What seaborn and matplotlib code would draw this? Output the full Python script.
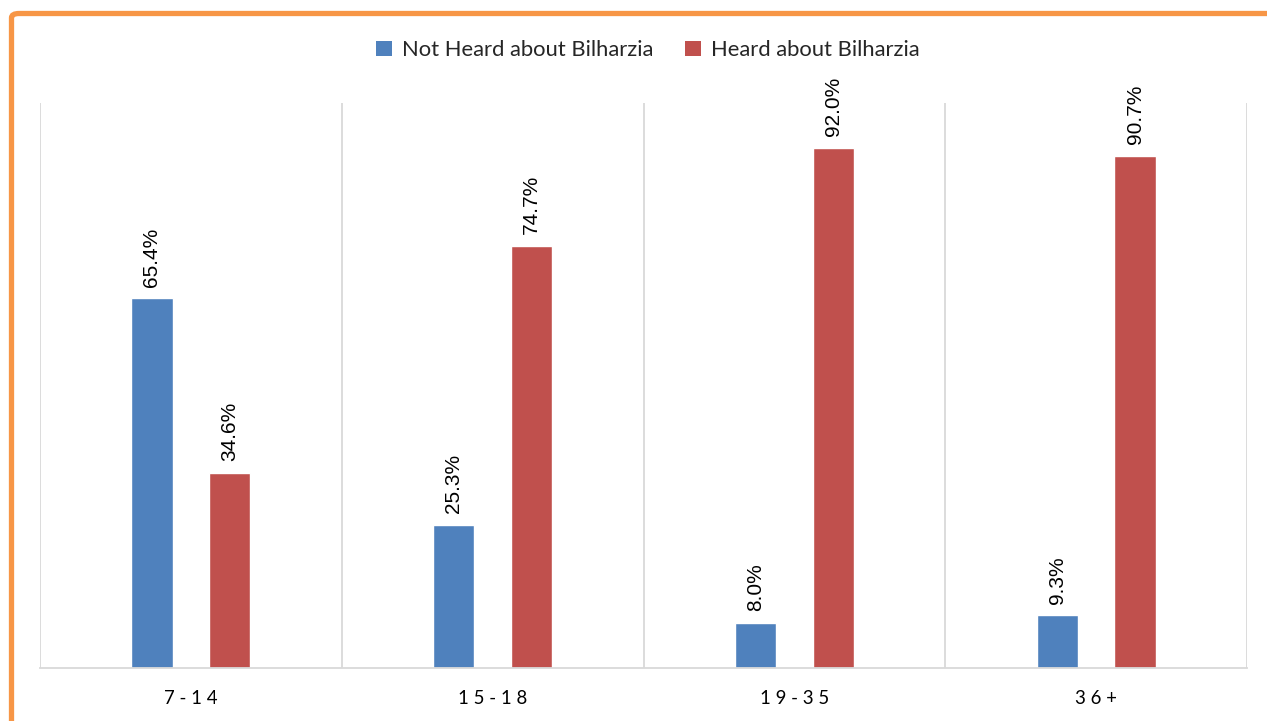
import matplotlib
matplotlib.use("Agg")
import matplotlib.pyplot as plt
from matplotlib.patches import FancyBboxPatch, Patch
import seaborn as sns
import pandas as pd

# Awareness of bilharzia by age group (percent of respondents)
age_groups = ["7-14", "15-18", "19-35", "36+"]
not_heard = [65.4, 25.3, 8.0, 9.3]
heard = [34.6, 74.7, 92.0, 90.7]
series_names = ["Not Heard about Bilharzia", "Heard about Bilharzia"]
series_colors = ["#4F81BD", "#C0504D"]

df = pd.DataFrame({
    "age": age_groups * 2,
    "pct": not_heard + heard,
    "group": [series_names[0]] * 4 + [series_names[1]] * 4,
})

sns.set_style("white")
W, H = 1267, 721
fig = plt.figure(figsize=(W / 100, H / 100), dpi=100)
ax = fig.add_axes([40 / W, 1 - 668 / H, (1247 - 40) / W, (668 - 103) / H])

sns.barplot(data=df, x="age", y="pct", hue="group", order=age_groups,
            hue_order=series_names, palette=series_colors,
            width=0.516, gap=0.47, ax=ax, legend=False, saturation=1,
            errorbar=None)

ax.set_ylim(0, 100)
ax.set_xlim(-0.5, len(age_groups) - 0.5)
ax.set_xlabel("")
ax.set_ylabel("")
ax.set_yticks([])

# value labels above each bar
for container in ax.containers:
    for bar in container:
        h = bar.get_height()
        ax.text(bar.get_x() + bar.get_width() / 2, h + 2.1, f"{h:.1f}%",
                rotation=90, ha="center", va="bottom",
                fontsize=15, family="Liberation Sans", color="#000000")

# category separators
grid_color = "#D9D9D9"
for xb in [i - 0.5 for i in range(len(age_groups) + 1)]:
    ax.axvline(xb, color=grid_color, lw=1.3, zorder=0)
for side in ["top", "right", "left"]:
    ax.spines[side].set_visible(False)
ax.spines["bottom"].set_color(grid_color)
ax.spines["bottom"].set_linewidth(1.3)

ax.set_xticks(range(len(age_groups)))
ax.set_xticklabels([" ".join(a) for a in age_groups], fontsize=13.4,
                   family="Lato", color="#000000")
ax.tick_params(axis="x", length=0, pad=16)

handles = [Patch(facecolor=c, edgecolor="none") for c in series_colors]
fig.legend(handles, series_names, loc="center",
           bbox_to_anchor=(648 / W, 1 - 50 / H),
           ncol=2, frameon=False, handlelength=0.72,
           handleheight=0.72, handletextpad=0.45, columnspacing=1.45,
           prop={"family": "Lato", "size": 15.8})

# orange outer frame, open to the right and bottom
frame = FancyBboxPatch((11.5 / W, -0.2), 1.5, 1.2 - 13.5 / H,
                       boxstyle="round,pad=0,rounding_size=0.006",
                       transform=fig.transFigure, facecolor="none",
                       edgecolor="#F79646", lw=3.8, clip_on=False)
fig.patches.append(frame)

fig.savefig("out.png", dpi=100)
